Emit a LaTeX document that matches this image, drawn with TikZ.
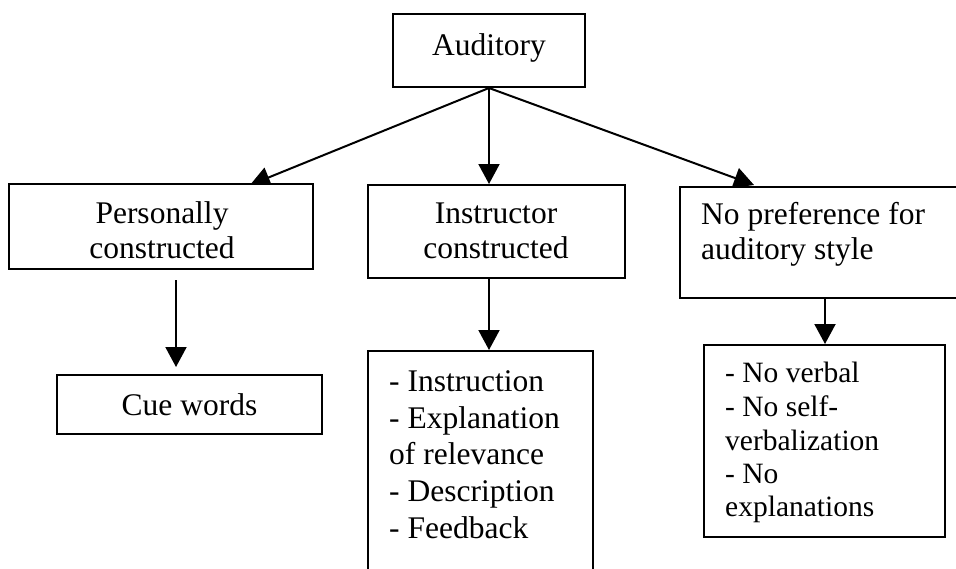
\documentclass[tikz,border=0pt]{standalone}
\usepackage{fontspec}
\setmainfont{Liberation Serif}
\usetikzlibrary{arrows.meta,calc,backgrounds}
\begin{document}
\begin{tikzpicture}[x=1pt,y=-1pt,
  box/.style={draw=black,line width=2pt,fill=white,inner sep=0pt,minimum width=#1},
  arr/.style={line width=2pt,-{Triangle[length=20pt,width=21pt]}},
  txt/.style={inner sep=0pt,anchor=base,font=\fontsize{31.5}{36}\selectfont},
  txtl/.style={inner sep=0pt,anchor=base west,font=\fontsize{31.5}{36}\selectfont},
  txts/.style={inner sep=0pt,anchor=base west,font=\fontsize{29.5}{34}\selectfont}]
\useasboundingbox (0,0) rectangle (956,568);
\clip (0,0) rectangle (956,568);
% boxes
\node[box=192pt,minimum height=73pt]  (aud) at (489,50.5) {};
\node[box=304pt,minimum height=85pt]  (pc)  at (161,226.5) {};
\node[box=257pt,minimum height=93pt]  (ic)  at (496.5,231.5) {};
\node[box=290pt,minimum height=111pt] (np)  at (825,242.5) {};
\node[box=265pt,minimum height=59pt]  (cw)  at (189.5,404.5) {};
\node[box=225pt,minimum height=249pt] (il)  at (480.5,475.5) {};
\node[box=241pt,minimum height=192pt] (nl)  at (824.5,441) {};
% texts
\node[txt] (t-aud) at (489,55) {Auditory};
\node[txt] (t-pc1) at (162,223) {Personally};
\node[txt] (t-pc2) at (162,258) {constructed};
\node[txt] (t-ic1) at (496,223) {Instructor};
\node[txt] (t-ic2) at (496,258) {constructed};
\node[txtl] (t-np1) at (701,224) {No preference for};
\node[txtl] (t-np2) at (701,259) {auditory style};
\node[txt] (t-cw) at (189.5,415) {Cue words};
\node[txtl] (t-il1) at (389,391) {- Instruction};
\node[txtl] (t-il2) at (389,428) {- Explanation};
\node[txtl] (t-il3) at (389,464) {of relevance};
\node[txtl] (t-il4) at (389,501) {- Description};
\node[txtl] (t-il5) at (389,538) {- Feedback};
\node[txts] (t-nl1) at (725,382) {- No verbal};
\node[txts] (t-nl2) at (725,416) {- No self-};
\node[txts] (t-nl3) at (725,450) {verbalization};
\node[txts] (t-nl4) at (725,483) {- No};
\node[txts] (t-nl5) at (725,516) {explanations};
% connectors
\begin{pgfonlayer}{background}
\fill[white] (0,0) rectangle (956,568);
\draw[arr] (aud.south) -- ($(pc.north west)+(242,2)$);
\draw[arr] (aud.south) -- (aud.south |- ic.north);
\draw[arr] (aud.south) -- ($(np.north west)+(75,-1)$);
\draw[arr] ($(pc.south west)+(168,10)$) -- ($(cw.north west)+(120,-7)$);
\draw[arr] ($(ic.south west)+(122,0)$) -- ($(il.north west)+(122,0)$);
\draw[arr] (np.south) -- (np.south |- nl.north);
\end{pgfonlayer}
\end{tikzpicture}
\end{document}
